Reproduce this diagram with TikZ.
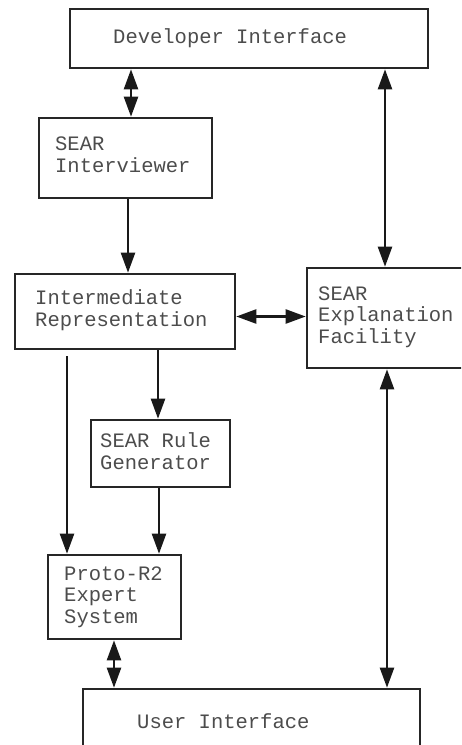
\documentclass[tikz,border=0pt]{standalone}
\usepackage{fontspec}
\newfontfamily\boxfont{Liberation Mono}
\usetikzlibrary{arrows.meta}
\begin{document}
\begin{tikzpicture}[x=1pt,y=-1pt,
  blk/.style={draw=black!85, line width=2.6pt, rectangle, inner sep=0pt},
  txt/.style={anchor=base west, inner sep=0pt, font=\boxfont\fontsize{20.5}{21.5}\selectfont, text=black!70, align=left},
  flow/.style={line width=2.4pt, draw=black!90, -{Triangle[length=20pt,width=14pt]}},
  both/.style={line width=2.4pt, draw=black!90, {Triangle[length=20pt,width=14pt]}-{Triangle[length=20pt,width=14pt]}}]
\useasboundingbox (0,0) rectangle (461,745);
\clip (0,0) rectangle (461,745);

% boxes
\node[blk, minimum width=358pt, minimum height=59pt] (dev)   at (249,38.5) {};
\node[blk, minimum width=173pt, minimum height=80pt] (intv)  at (125.5,158) {};
\node[blk, minimum width=220pt, minimum height=75pt] (inter) at (125,311.5) {};
\node[blk, minimum width=168pt, minimum height=100pt] (expl) at (391,318) {};
\node[blk, minimum width=139pt, minimum height=67pt] (rule)  at (160.5,453.5) {};
\node[blk, minimum width=133pt, minimum height=84pt] (proto) at (114.5,597) {};
\node[blk, minimum width=337pt, minimum height=71pt] (user)  at (251.5,724.5) {};

% labels (anchored at the baseline of their last line)
\node[txt] (tdev)   at (113,43)  {Developer Interface};
\node[txt] (tintv)  at (55,172)  {SEAR\\Interviewer};
\node[txt] (tinter) at (35,326)  {Intermediate\\Representation};
\node[txt] (texpl)  at (318,343) {SEAR\\Explanation\\Facility};
\node[txt] (trule)  at (100,469) {SEAR Rule\\Generator};
\node[txt] (tproto) at (64,623)  {Proto-R2\\Expert\\System};
\node[txt] (tuser)  at (137,728) {User Interface};

% connectors
\draw[both] (dev.south -| 131,0) -- (intv.north -| 131,0);
\draw[both] (dev.south -| 385,0) -- (expl.north -| 385,0);
\draw[flow] (intv.south -| 128,0) -- (inter.north -| 128,0);
\draw[both] (inter.east |- 0,316.5) -- (expl.west |- 0,316.5);
\draw[flow] ([yshift=-6pt]inter.south -| 67,0) -- (proto.north -| 67,0);
\draw[flow] (inter.south -| 158,0) -- (rule.north -| 158,0);
\draw[flow] (rule.south -| 159,0) -- (proto.north -| 159,0);
\draw[both] (proto.south -| 114,0) -- (user.north -| 114,0);
\draw[both] (expl.south -| 387,0) -- (user.north -| 387,0);
\end{tikzpicture}
\end{document}
